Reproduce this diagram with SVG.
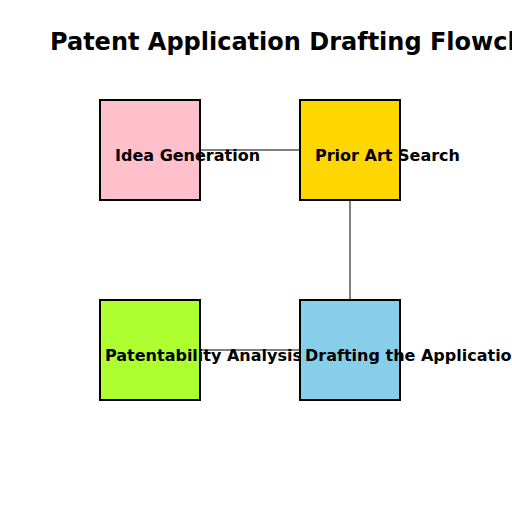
<svg xmlns="http://www.w3.org/2000/svg" width="512" height="512" viewBox="0 0 512 512">
<style>
.box{stroke:#000;stroke-width:2}
.lbl{font-family:"DejaVu Sans",sans-serif;font-weight:bold;font-size:16px;fill:#000}
.title{font-family:"DejaVu Sans",sans-serif;font-weight:bold;font-size:24px;fill:#000}
.conn{stroke:#808080;stroke-width:2;fill:none}
</style>
<rect width="512" height="512" fill="#fff"/>
<text class="title" x="50" y="50">Patent Application Drafting Flowchart</text>
<g id="connectors">
<line class="conn" x1="200" y1="150" x2="300" y2="150"/>
<line class="conn" x1="350" y1="200" x2="350" y2="300"/>
<line class="conn" x1="200" y1="350" x2="300" y2="350"/>
</g>
<g id="idea">
<rect class="box" x="100" y="100" width="100" height="100" fill="#FFC0CB"/>
<text class="lbl" x="115" y="161">Idea Generation</text>
</g>
<g id="prior">
<rect class="box" x="300" y="100" width="100" height="100" fill="#FFD700"/>
<text class="lbl" x="315" y="161">Prior Art Search</text>
</g>
<g id="patentability">
<rect class="box" x="100" y="300" width="100" height="100" fill="#ADFF2F"/>
<text class="lbl" x="105" y="361">Patentability Analysis</text>
</g>
<g id="drafting">
<rect class="box" x="300" y="300" width="100" height="100" fill="#87CEEB"/>
<text class="lbl" x="305" y="361">Drafting the Application</text>
</g>
</svg>
